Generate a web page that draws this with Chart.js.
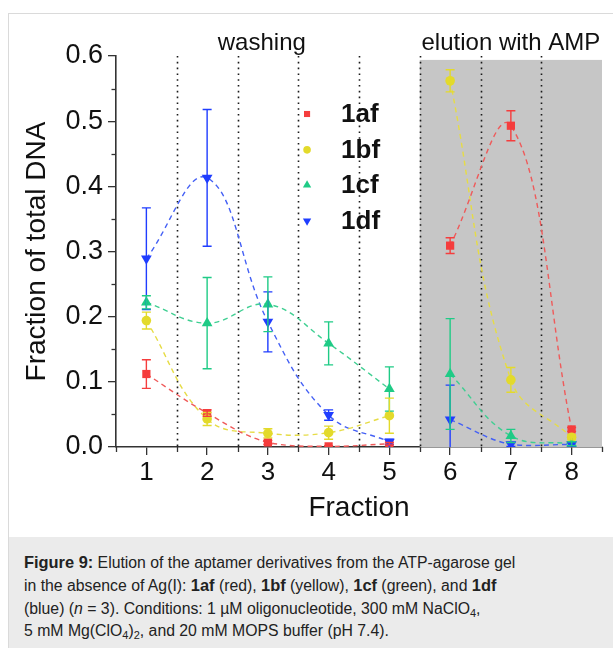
<!DOCTYPE html>
<html><head><meta charset="utf-8">
<script src="https://cdn.jsdelivr.net/npm/chart.js@4.4.1/dist/chart.umd.min.js"></script>
<style>
html,body{margin:0;padding:0;background:#fff;width:613px;height:648px;overflow:hidden;font-family:'Liberation Sans',Arial,sans-serif;}
#frame{position:absolute;left:8px;top:13px;width:605px;height:635px;border-left:1px solid #dadada;border-top:1px solid #dadada;}
#wrap{position:absolute;left:0;top:0;width:613px;height:537px;}
#cap{position:absolute;left:9px;top:537px;width:604px;height:111px;background:#ebebeb;box-sizing:border-box;padding:14px 0 0 15px;font-size:15.8px;line-height:22.3px;color:#222;white-space:nowrap;}
#cap b{font-size:16.4px;}
#cap sub{font-size:11px;vertical-align:-3px;line-height:0;}
</style></head>
<body>
<div id="frame"></div>
<div id="wrap"><canvas id="c" width="613" height="537"></canvas></div>
<div id="cap"><b>Figure 9:</b> Elution of the aptamer derivatives from the ATP-agarose gel<br>in the absence of Ag(I): <b>1af</b> (red), <b>1bf</b> (yellow), <b>1cf</b> (green), and <b>1df</b><br>(blue) (<i>n</i> = 3). Conditions: 1 µM oligonucleotide, 300 mM NaClO<sub>4</sub>,<br>5 mM Mg(ClO<sub>4</sub>)<sub>2</sub>, and 20 mM MOPS buffer (pH 7.4).</div>
<script>
// ---- data ----
const fractions = [1, 2, 3, 4, 5, 6, 7, 8];
const washingCount = 5; // fractions 1-5 washing, 6-8 elution with AMP
const seriesNames = ['1af', '1bf', '1cf', '1df'];
const af = [0.112, 0.052, 0.007, 0.001, 0.005, 0.309, 0.493, 0.027];
const bf = [0.194, 0.043, 0.021, 0.022, 0.048, 0.562, 0.103, 0.015];
const cf = [0.222, 0.190, 0.219, 0.159, 0.089, 0.112, 0.017, 0.005];
const df = [0.289, 0.413, 0.192, 0.049, 0.008, 0.042, 0.004, 0.004];
const afErr = [0.022, 0.005, 0.003, 0.001, 0.002, 0.012, 0.023, 0.003];
const bfErr = [0.013, 0.010, 0.007, 0.010, 0.027, 0.017, 0.019, 0.004];
const cfErr = [0.010, 0.070, 0.042, 0.033, 0.034, 0.085, 0.010, 0.003];
const dfErr = [0.078, 0.105, 0.046, 0.008, 0.004, 0.053, 0.003, 0.003];
const yTicks = [0, 0.1, 0.2, 0.3, 0.4, 0.5, 0.6];
const separators = [1.5, 2.5, 3.5, 4.5, 5.5, 6.5, 7.5];
const phaseLabels = ['washing', 'elution with AMP'];

// ---- styles ----
const colors = ['#f53d3d', '#e3da2b', '#1fcb86', '#1f3dff'];
const lineColors = ['#ef5a5a', '#e6dc45', '#3fcf92', '#4460f5'];
const styles = [
  {ps: 'rect', r: 5.8, rot: 0, lr: 4.3},
  {ps: 'circle', r: 4.8, rot: 0, lr: 3.8},
  {ps: 'triangle', r: 6.2, rot: 0, lr: 4.8},
  {ps: 'triangle', r: 6.2, rot: 180, lr: 4.8}
];
const values = [af, bf, cf, df];
const errors = [afErr, bfErr, cfErr, dfErr];

const pts = (arr, from, to) => fractions.slice(from, to).map((f, i) => ({x: f, y: arr[from + i]}));

const datasets = [];
values.forEach((arr, k) => {
  const lineBase = {
    data: null, showLine: true, pointRadius: 0, pointHoverRadius: 0,
    borderColor: lineColors[k], borderWidth: 1.4, borderDash: [5, 4], tension: 0.4,
    fill: false, order: 10
  };
  datasets.push(Object.assign({}, lineBase, {label: seriesNames[k] + ' washing', data: pts(arr, 0, washingCount)}));
  datasets.push(Object.assign({}, lineBase, {label: seriesNames[k] + ' elution', data: pts(arr, washingCount, fractions.length)}));
});
values.forEach((arr, k) => {
  datasets.push({
    label: seriesNames[k], data: pts(arr, 0, fractions.length), showLine: false,
    pointStyle: styles[k].ps, pointRadius: styles[k].r, pointRotation: styles[k].rot,
    pointBackgroundColor: colors[k], pointBorderColor: colors[k], pointBorderWidth: 0,
    order: 4 - k
  });
});

function drawMarker(ctx, st, r, x, y, color) {
  ctx.save();
  ctx.fillStyle = color;
  ctx.beginPath();
  if (st.ps === 'rect') {
    const s = Math.SQRT1_2 * r;
    ctx.rect(x - s, y - s, 2 * s, 2 * s);
  } else if (st.ps === 'circle') {
    ctx.arc(x, y, r, 0, Math.PI * 2);
  } else {
    const dir = st.rot === 180 ? -1 : 1;
    ctx.moveTo(x, y - dir * r);
    ctx.lineTo(x + r * Math.cos(Math.PI / 6), y + dir * r * 0.5);
    ctx.lineTo(x - r * Math.cos(Math.PI / 6), y + dir * r * 0.5);
    ctx.closePath();
  }
  ctx.fill();
  ctx.restore();
}

const deco = {
  id: 'deco',
  beforeDatasetsDraw(chart) {
    const {ctx, chartArea: a, scales: {x, y}} = chart;
    ctx.save();
    // shaded elution region
    const x0 = x.getPixelForValue(fractions[washingCount] - 0.5);
    const x1 = x.getPixelForValue(fractions[fractions.length - 1] + 0.5);
    const yt = y.getPixelForValue(0.594), yb = y.getPixelForValue(0);
    ctx.fillStyle = '#c6c6c6';
    ctx.fillRect(x0, yt, x1 - x0, yb - yt);
    // dotted separators
    ctx.strokeStyle = '#1a1a1a';
    ctx.lineWidth = 1.6;
    ctx.setLineDash([1.6, 4.2]);
    separators.forEach(v => {
      const px = Math.round(x.getPixelForValue(v)) + 0.5;
      ctx.beginPath(); ctx.moveTo(px, a.top); ctx.lineTo(px, a.bottom); ctx.stroke();
    });
    ctx.setLineDash([]);
    ctx.restore();
  },
  afterDatasetsDraw(chart) {
    const {ctx, chartArea: a, scales: {x, y}} = chart;
    ctx.save();
    ctx.beginPath(); ctx.rect(a.left, a.top - 20, a.right - a.left, a.bottom - a.top + 20); ctx.clip();
    // error bars
    for (let k = values.length - 1; k >= 0; k--) {
      ctx.strokeStyle = colors[k];
      ctx.lineWidth = 1.4;
      fractions.forEach((f, i) => {
        const px = x.getPixelForValue(f);
        const hi = y.getPixelForValue(values[k][i] + errors[k][i]);
        const lo = y.getPixelForValue(Math.max(0, values[k][i] - errors[k][i]));
        ctx.beginPath();
        ctx.moveTo(px, hi); ctx.lineTo(px, lo);
        ctx.moveTo(px - 4.5, hi); ctx.lineTo(px + 4.5, hi);
        if (values[k][i] - errors[k][i] > 0) { ctx.moveTo(px - 4.5, lo); ctx.lineTo(px + 4.5, lo); }
        ctx.stroke();
      });
    }
    ctx.restore();
  },
  afterDraw(chart) {
    const {ctx, chartArea: a, scales: {x, y}} = chart;
    ctx.save();
    // minor ticks
    ctx.strokeStyle = '#333'; ctx.lineWidth = 1.3;
    for (let v = 0.5; v <= 8.5; v += 1) {
      const px = Math.round(x.getPixelForValue(v)) + 0.5;
      ctx.beginPath(); ctx.moveTo(px, a.bottom); ctx.lineTo(px, a.bottom + 5); ctx.stroke();
    }
    for (let v = 0.05; v < 0.6; v += 0.1) {
      const py = Math.round(y.getPixelForValue(v)) + 0.5;
      ctx.beginPath(); ctx.moveTo(a.left, py); ctx.lineTo(a.left - 4.5, py); ctx.stroke();
    }
    // phase labels
    ctx.fillStyle = '#111';
    ctx.font = "24px 'Liberation Sans', Arial, sans-serif";
    ctx.textAlign = 'center'; ctx.textBaseline = 'alphabetic';
    ctx.fillText(phaseLabels[0], x.getPixelForValue(2.9), 50);
    ctx.fillText(phaseLabels[1], x.getPixelForValue(7.0), 50);
    // legend
    const lx = x.getPixelForValue(3.645);
    const rows = [0.511, 0.456, 0.402, 0.347];
    ctx.font = "bold 26px 'Liberation Sans', Arial, sans-serif";
    ctx.textAlign = 'left'; ctx.textBaseline = 'middle';
    seriesNames.forEach((n, k) => {
      const py = y.getPixelForValue(rows[k]);
      drawMarker(ctx, styles[k], styles[k].lr, lx, py, colors[k]);
      ctx.fillStyle = '#111';
      ctx.fillText(n, lx + 34, py + 1);
    });
    ctx.restore();
  }
};

Chart.defaults.font.family = "'Liberation Sans', Arial, sans-serif";
Chart.defaults.color = '#111';

new Chart(document.getElementById('c'), {
  type: 'scatter',
  data: {datasets},
  options: {
    responsive: false, animation: false,
    layout: {padding: {top: 56, right: 11, left: 0, bottom: 0}},
    plugins: {legend: {display: false}, tooltip: {enabled: false}},
    scales: {
      x: {
        type: 'linear', min: 0.5, max: 8.5,
        afterBuildTicks: s => { s.ticks = fractions.map(v => ({value: v})); },
        afterFit: s => { s.height = 90; },
        grid: {drawOnChartArea: false, drawTicks: true, tickLength: 8, color: '#333', lineWidth: 1.3},
        border: {color: '#333', width: 1.6},
        ticks: {font: {size: 26}, padding: 2, color: '#111', callback: v => String(v)},
        title: {display: true, text: 'Fraction', font: {size: 28}, color: '#111', padding: {top: 0, bottom: 12}}
      },
      y: {
        min: 0, max: 0.6,
        afterBuildTicks: s => { s.ticks = yTicks.map(v => ({value: v})); },
        afterFit: s => { s.width = 116; },
        grid: {drawOnChartArea: false, drawTicks: true, tickLength: 8, color: '#333', lineWidth: 1.3},
        border: {color: '#333', width: 1.6},
        ticks: {font: {size: 27}, padding: 5, color: '#111', callback: v => v.toFixed(1)},
        title: {display: true, text: 'Fraction of total DNA', font: {size: 28}, color: '#111', padding: {top: 20, bottom: 0}}
      }
    }
  },
  plugins: [deco]
});
</script>
</body></html>
